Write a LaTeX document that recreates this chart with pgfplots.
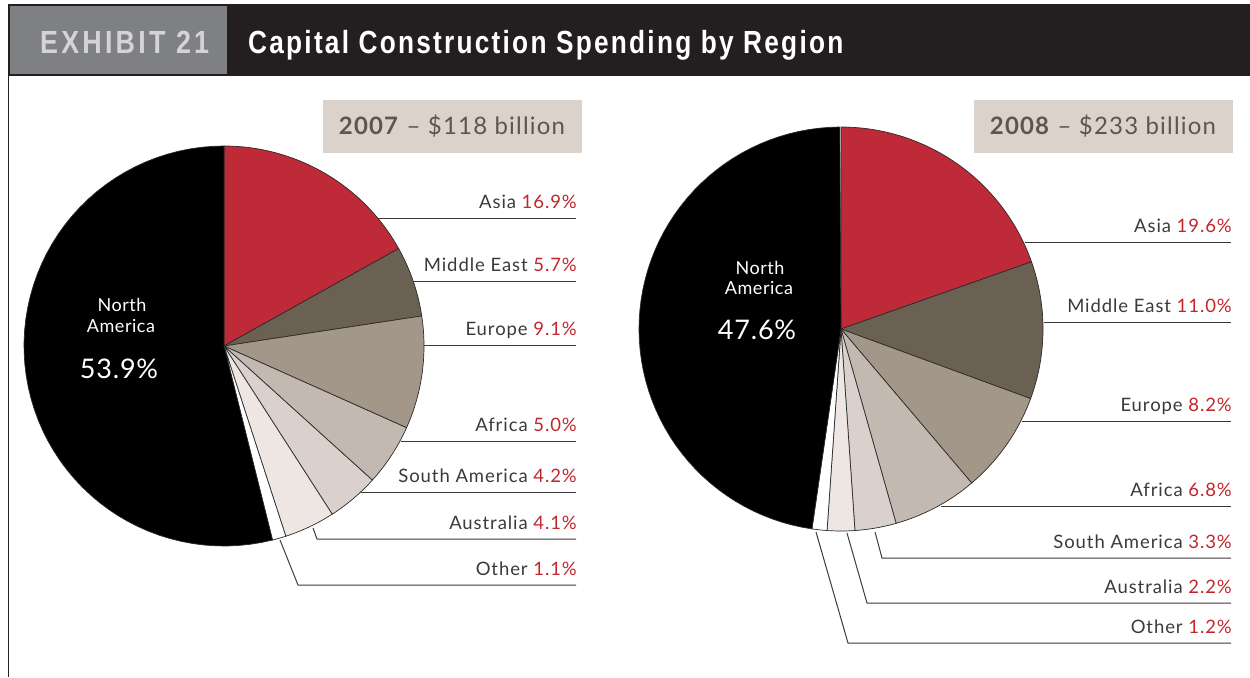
\documentclass[border=0pt]{standalone}
\usepackage{fontspec}
\usepackage{xcolor}
\usepackage{pgfplots}
\usepackage{pgfplotstable}
\pgfplotsset{compat=1.18}
\setmainfont{Lato}
\newfontfamily\labfont[LetterSpace=5]{Lato}
\newfontfamily\nafont[LetterSpace=3]{Lato}
\newfontfamily\yearfont[LetterSpace=5]{Lato}
\newfontfamily\headfont[FakeStretch=0.82, LetterSpace=7]{Liberation Sans}
\newfontfamily\exfont[FakeStretch=0.84, LetterSpace=10]{Liberation Sans}

\definecolor{hdr}{HTML}{231F20}
\definecolor{exgrey}{HTML}{7F8083}
\definecolor{exfg}{HTML}{D4D4D6}
\definecolor{boxfill}{HTML}{DCD2CC}
\definecolor{yeartxt}{HTML}{5E564D}
\definecolor{labgrey}{HTML}{3A3A3A}
\definecolor{pctred}{HTML}{C0272D}
\definecolor{edge}{HTML}{2B2B2B}
\definecolor{cAsia}{HTML}{BE2A37}
\definecolor{cME}{HTML}{6B6153}
\definecolor{cEu}{HTML}{A39789}
\definecolor{cAf}{HTML}{C4B9B0}
\definecolor{cSA}{HTML}{DAD1CC}
\definecolor{cAu}{HTML}{EDE6E3}
\definecolor{cOt}{HTML}{FFFFFF}
\definecolor{cNA}{HTML}{000000}

% share of spending (%), slice colour, y of the label line (0 = no side label)
\pgfplotstableread[col sep=comma]{
region,value,color,ly
Asia,16.9,cAsia,218
Middle East,5.7,cME,281
Europe,9.1,cEu,345
Africa,5.0,cAf,441
South America,4.2,cSA,492
Australia,4.1,cAu,539
Other,1.1,cOt,585
North America,53.9,cNA,0
}\tabA

\pgfplotstableread[col sep=comma]{
region,value,color,ly
Asia,19.6,cAsia,242
Middle East,11.0,cME,322
Europe,8.2,cEu,421
Africa,6.8,cAf,506
South America,3.3,cSA,558
Australia,2.2,cAu,603
Other,1.2,cOt,643
North America,47.6,cNA,0
}\tabB

% #1 table, #2 cx, #3 cy, #4 radius, #5 right end of labels
\newcommand\drawpie[5]{%
  \pgfplotstablegetrowsof{#1}%
  \pgfmathtruncatemacro\lastrow{\pgfplotsretval-1}%
  \def\angA{90}%
  \pgfplotsforeachungrouped \i in {0,...,\lastrow}{%
    \pgfplotstablegetelem{\i}{value}\of{#1}\let\wval\pgfplotsretval
    \pgfplotstablegetelem{\i}{color}\of{#1}\let\wcol\pgfplotsretval
    \pgfplotstablegetelem{\i}{region}\of{#1}\let\wreg\pgfplotsretval
    \pgfplotstablegetelem{\i}{ly}\of{#1}\let\wly\pgfplotsretval
    \pgfmathsetmacro\angB{\angA-3.6*\wval}%
    \edef\temp{\noexpand\addplot[draw=edge, line width=0.7pt, fill=\wcol,
        domain=\angB:\angA, samples=60]
      ({#2+#4*cos(x)},{#3-#4*sin(x)}) -- (axis cs:#2,#3) -- cycle;}%
    \temp
    \ifnum\wly>0
      \pgfmathsetmacro\wby{\wly-10}%
      \edef\temp{\noexpand\node[anchor=base east, text=labgrey, inner sep=0pt,
          font=\noexpand\labfont\noexpand\fontsize{18.5}{20}\noexpand\selectfont]
        at (axis cs:#5,\wby) {\wreg\space\noexpand\textcolor{pctred}{\wval\noexpand\%}};}%
      \temp
    \fi
    \let\angA\angB
  }%
}

\begin{document}
\begin{tikzpicture}
\begin{axis}[
    hide axis, scale only axis,
    width=1250pt, height=677pt,
    xmin=0, xmax=1250, ymin=0, ymax=677,
    y dir=reverse, clip=false,
  ]
  \path (axis cs:0,0) rectangle (axis cs:1250,677);

  % header bar
  \fill[hdr] (axis cs:8,4) rectangle (axis cs:1250,76);
  \fill[exgrey] (axis cs:10,6) rectangle (axis cs:227,74);
  \node[anchor=base west, inner sep=0pt, text=exfg, font=\exfont\bfseries\fontsize{32}{36}\selectfont]
    at (axis cs:40,53) {EXHIBIT 21};
  \node[anchor=base west, inner sep=0pt, text=white, font=\headfont\bfseries\fontsize{32}{36}\selectfont]
    at (axis cs:248,53) {Capital Construction Spending by Region};
  \draw[hdr, line width=1.5pt] (axis cs:8.5,75) -- (axis cs:8.5,677);

  % year boxes
  \fill[boxfill] (axis cs:323,100) rectangle (axis cs:582,153);
  \node[anchor=base, inner sep=0pt, text=yeartxt, font=\yearfont\fontsize{24}{26}\selectfont]
    at (axis cs:452,134) {\textbf{2007} \textendash{} \$118 billion};
  \fill[boxfill] (axis cs:974,100) rectangle (axis cs:1233,153);
  \node[anchor=base, inner sep=0pt, text=yeartxt, font=\yearfont\fontsize{24}{26}\selectfont]
    at (axis cs:1103,134) {\textbf{2008} \textendash{} \$233 billion};

  % pies
  \drawpie{\tabA}{224}{346}{200}{577}
  \drawpie{\tabB}{841}{329}{202}{1232}

  % leader lines
  \begin{scope}[line width=1pt, labgrey]
    \draw (axis cs:378,218) -- (axis cs:576,218);
    \draw (axis cs:413,281) -- (axis cs:576,281);
    \draw (axis cs:424,345) -- (axis cs:576,345);
    \draw (axis cs:401,441) -- (axis cs:576,441);
    \draw (axis cs:361,492) -- (axis cs:576,492);
    \draw (axis cs:313,528) -- (axis cs:317,539) -- (axis cs:576,539);
    \draw (axis cs:280,540) -- (axis cs:298,585) -- (axis cs:576,585);
    \draw (axis cs:1025,242) -- (axis cs:1231,242);
    \draw (axis cs:1044,322) -- (axis cs:1231,322);
    \draw (axis cs:1022,421) -- (axis cs:1231,421);
    \draw (axis cs:941,506) -- (axis cs:1231,506);
    \draw (axis cs:875,532) -- (axis cs:882,558) -- (axis cs:1231,558);
    \draw (axis cs:847,533) -- (axis cs:867,603) -- (axis cs:1231,603);
    \draw (axis cs:816,532) -- (axis cs:848,643) -- (axis cs:1231,643);
  \end{scope}

  % North America labels
  \begin{scope}[text=white, inner sep=0pt, font=\nafont\fontsize{18}{20}\selectfont]
    \node[anchor=base] at (axis cs:122,311) {North};
    \node[anchor=base] at (axis cs:121,332) {America};
    \node[anchor=base, font=\nafont\fontsize{27}{30}\selectfont] at (axis cs:119,378) {53.9\%};
    \node[anchor=base] at (axis cs:760,274) {North};
    \node[anchor=base] at (axis cs:759,294) {America};
    \node[anchor=base, font=\nafont\fontsize{27}{30}\selectfont] at (axis cs:757,339) {47.6\%};
  \end{scope}
\end{axis}
\end{tikzpicture}
\end{document}
